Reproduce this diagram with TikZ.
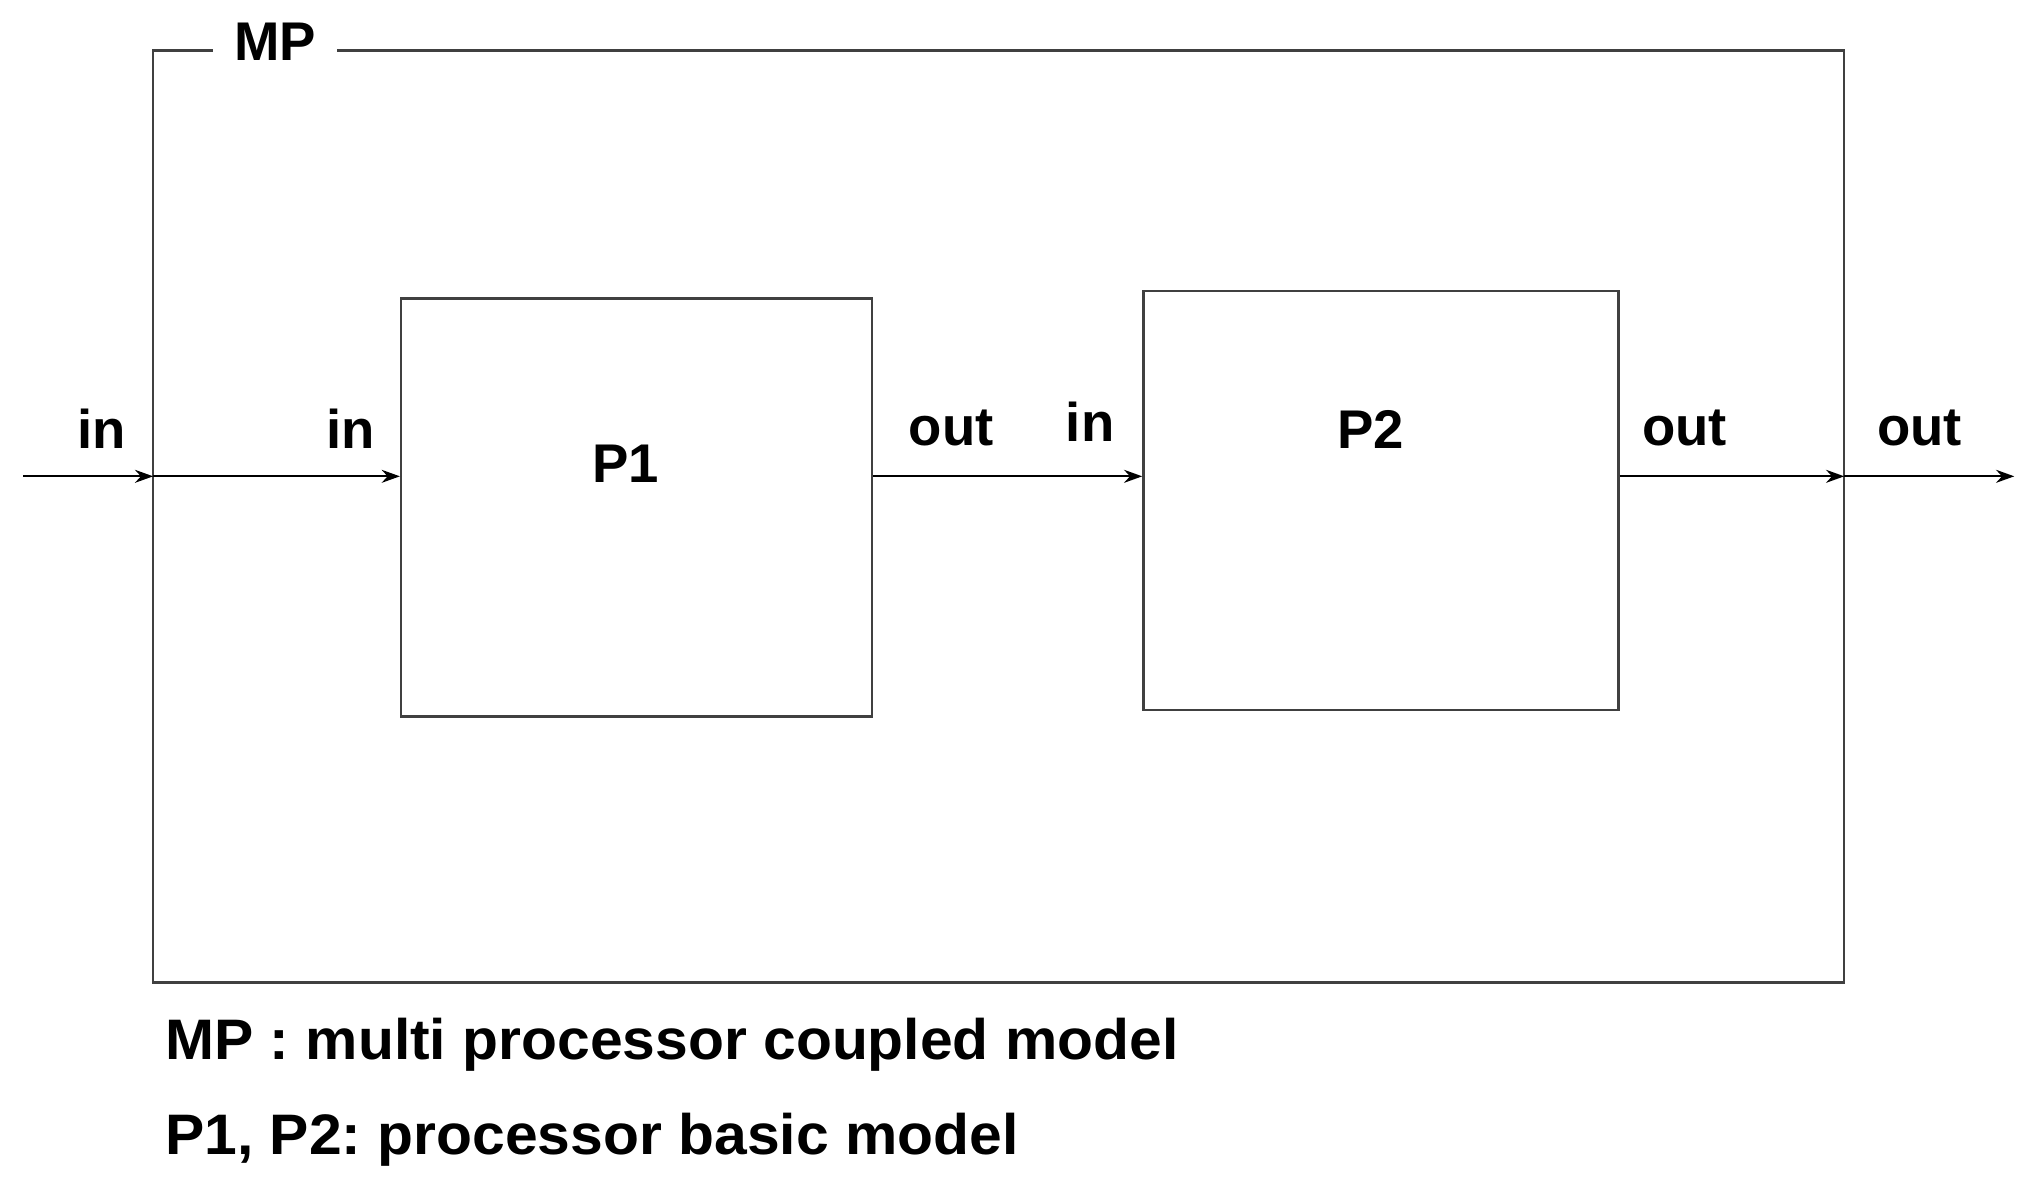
\documentclass[tikz,border=0pt]{standalone}
\usepackage{fontspec}
\setmainfont{Liberation Sans}
\usetikzlibrary{arrows.meta}
\frenchspacing
\begin{document}
\begin{tikzpicture}[x=0.5pt,y=-0.5pt,
  box/.style={draw=black!75,line width=0.9pt,rectangle,inner sep=0pt},
  lbl/.style={font=\bfseries\fontsize{21}{24}\selectfont,inner sep=0pt},
  leg/.style={font=\bfseries\fontsize{22}{26}\selectfont,inner sep=0pt,anchor=west,xscale=1.03},
  arr/.style={line width=0.8pt,-{Stealth[length=7pt,width=5pt]}}]
\useasboundingbox (0,0) rectangle (1568,918);
\node[box,minimum width=651.5pt,minimum height=359pt] (MP) at (769.5,398) {};
\node[lbl,fill=white,inner xsep=8pt] (MPl) at (212,32) {MP};
\node[box,minimum width=181.5pt,minimum height=161pt] (P1) at (490.5,391) {};
\node[box,minimum width=183pt,minimum height=161.5pt] (P2) at (1064,385.5) {};
\node[lbl] at (482,357) {P1};
\node[lbl] at (1056,331) {P2};
\coordinate (s) at (18,367);
\coordinate (mi) at (118,367);
\coordinate (mo) at (1421,367);
\coordinate (e) at (1552,367);
\draw[arr] (s) -- (mi);
\draw[arr] (mi) -- (P1.west|-mi);
\draw[arr] (P1.east|-mi) -- (P2.west|-mi);
\draw[arr] (P2.east|-mi) -- (mo);
\draw[arr] (mo) -- (e);
\node[lbl] at (78,330) {in};
\node[lbl] at (270,330) {in};
\node[lbl] at (733,330) {out};
\node[lbl] at (840,325) {in};
\node[lbl] at (1298,330) {out};
\node[lbl] at (1479,330) {out};
\node[leg] at (127,805) {MP : multi processor coupled model};
\node[leg] at (127,878) {P1, P2: processor basic model};
\end{tikzpicture}
\end{document}
